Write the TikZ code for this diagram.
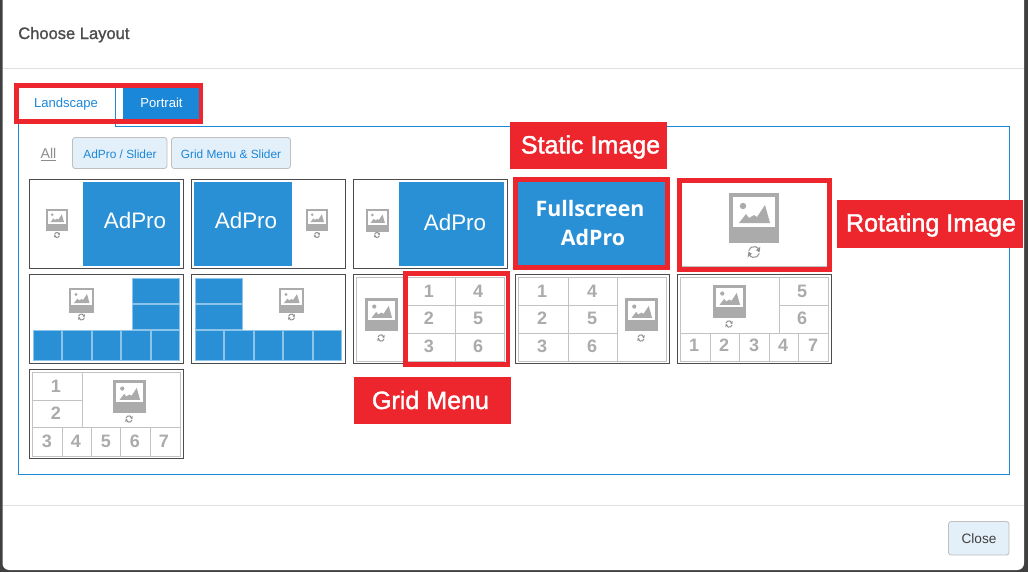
\documentclass[tikz,border=0pt]{standalone}
\usepackage{fontspec}
\setmainfont{Liberation Sans}
\newfontfamily\boldsans{Open Sans}
\newfontfamily\flagfont[FakeBold=1.5]{Liberation Sans}
\newfontfamily\titlefont[FakeBold=1.2]{Liberation Sans}
\definecolor{tabblue}{HTML}{1B87D8}
\definecolor{tileblue}{HTML}{2A90D6}
\definecolor{tilegap}{HTML}{8CC4EA}
\definecolor{markred}{HTML}{EC262C}
\definecolor{btnfill}{HTML}{E3EFF9}
\definecolor{iconGray}{HTML}{ABABAB}
\tikzset{
  frame/.style={draw=black!70,line width=0.75pt},
  cell/.style={draw=black!24,line width=0.6pt},
  redbox/.style={draw=markred,line width=3.6pt},
  tile/.style={fill=tileblue,draw=tilegap,line width=0.5pt},
  num/.style={text=iconGray,font=\fontsize{13.5}{14}\selectfont\bfseries,inner sep=0pt,yshift=-0.5pt},
  adpro/.style={text=white,font=\fontsize{16.8}{17}\selectfont,inner sep=0pt,anchor=base},
  fulltext/.style={text=white,font=\fontsize{16}{17}\selectfont\boldsans\bfseries,inner sep=0pt,anchor=base},
  flag/.style={text=white,font=\fontsize{18.8}{20}\selectfont\flagfont,inner sep=0pt,anchor=base},
  btn/.style={fill=btnfill,draw=black!25,line width=0.6pt,rounded corners=2pt},
  btntext/.style={text=tabblue,font=\fontsize{8.9}{10}\selectfont,inner sep=0pt,anchor=base},
  tabtext/.style={font=\fontsize{9.8}{11}\selectfont,inner sep=0pt,anchor=base}
}
\newcommand{\refreshicon}[3]{%
  \draw[iconGray!85!black,line width=0.75pt] (#1,#2) ++(15:#3) arc (15:165:#3);
  \draw[iconGray!85!black,line width=0.75pt] (#1,#2) ++(195:#3) arc (195:345:#3);
  \fill[iconGray!85!black,shift={(#1,#2)}] (140:0.5*#3) -- (140:1.5*#3) -- (185:#3) -- cycle;
  \fill[iconGray!85!black,shift={(#1,#2)}] (320:0.5*#3) -- (320:1.5*#3) -- (5:#3) -- cycle;
}
\newcommand{\imgicon}[3]{%
  \begin{scope}[shift={(#1,#2)},scale=#3/50]
    \fill[iconGray] (0,0) rectangle (50,50);
    \fill[white] (4,4) rectangle (46,34);
    \fill[iconGray] (14,13) circle (3.2);
    \fill[iconGray] (10,30) -- (17,21) -- (20,25) -- (25,22) -- (28,24) -- (36,12) -- (41,30) -- cycle;
  \end{scope}
}
\begin{document}
\begin{tikzpicture}[x=0.75pt,y=-0.75pt]
    \useasboundingbox (0,0) rectangle (1028,572);
    % Modal window on the dark page
    \fill[black!75] (0,0) rectangle (1028,572);
    \fill[white,rounded corners=5pt] (2.5,-10) rectangle (1024,570);
    \draw[black!12,line width=0.75pt] (2.5,68.5) -- (1024,68.5);
    \draw[black!12,line width=0.75pt] (2.5,505.5) -- (1024,505.5);
    \node[text=black!70,font=\fontsize{12.4}{13}\selectfont\titlefont,inner sep=0pt,anchor=base west] (title) at (18,39) {Choose Layout};

    % Tab panel
    \draw[tabblue,line width=0.75pt] (18.5,120) -- (18.5,474.5) -- (1009.5,474.5) -- (1009.5,126.5) -- (115.5,126.5) -- (115.5,87);
    \fill[tabblue] (123,87) rectangle (199,119);
    \node[tabtext,text=tabblue] (landscape) at (66,107) {Landscape};
    \node[tabtext,text=white] (portrait) at (161.5,107) {Portrait};

    % Filter buttons
    \node[text=black!45,font=\fontsize{10.6}{11}\selectfont,inner sep=0pt,anchor=base] (all) at (48.5,158) {\underline{All}};
    \draw[btn] (72.5,137.5) rectangle (167,168.5);
    \draw[btn] (171.5,137.5) rectangle (290.5,168.5);
    \node[btntext] (adslider) at (120,158) {AdPro / Slider};
    \node[btntext] (gridslider) at (231,158) {Grid Menu \& Slider};

    % Thumbnail frames
    \foreach \x in {29.5,191.5,353.5} {
      \draw[frame] (\x,179.5) rectangle ++(154,89);
    }
    \foreach \x in {29.5,191.5,353.5,515.5,677.5} {
      \draw[frame] (\x,274.5) rectangle ++(154,89);
    }
    \draw[frame] (29.5,369.5) rectangle ++(154,89);

    % First row: AdPro tiles
    \fill[tileblue] (83,182) rectangle (180,266);
    \fill[tileblue] (194,182) rectangle (292,266);
    \fill[tileblue] (399,182) rectangle (504,266);
    \node[adpro] (ad1) at (135,228) {AdPro};
    \node[adpro] (ad2) at (246,228) {AdPro};
    \node[adpro] (ad3) at (455,230) {AdPro};
    \imgicon{46}{209}{22}
    \imgicon{306}{209}{22}
    \imgicon{366}{209}{23}
    \refreshicon{57}{235}{2.5}
    \refreshicon{317}{235}{2.5}
    \refreshicon{377}{235}{2.5}

    % Fullscreen tile
    \fill[tileblue] (517,182) rectangle (665,265);
    \node[fulltext] (full1) at (590,216) {Fullscreen};
    \node[fulltext] (full2) at (593,245) {AdPro};

    % Rotating image tile
    \draw[cell] (681,266) -- (827,266);
    \imgicon{729}{193}{50}
    \refreshicon{754}{252}{5.5}

    % Second row: blue tiles
    \draw[tile] (132,278) rectangle (179,303.5);
    \draw[tile] (132,304) rectangle (179,329.5);
    \foreach \x in {33,62.5,92,121.5,151} {
      \draw[tile] (\x,330) rectangle ++(28.5,30.5);
    }
    \draw[tile] (195,278) rectangle (242,303.5);
    \draw[tile] (195,304) rectangle (242,329.5);
    \foreach \x in {195,224.5,254,283.5,313} {
      \draw[tile] (\x,330) rectangle ++(28.5,30.5);
    }
    \imgicon{69}{288}{25}
    \imgicon{279}{288}{25}
    \refreshicon{81.5}{317}{3}
    \refreshicon{291.5}{317}{3}

    % Grid with image on the left
    \draw[cell] (356.5,277.5) rectangle (504,361);
    \draw[cell] (455,277.5) -- (455,361);
    \draw[cell] (405,277.5) -- (405,361);
    \draw[cell] (405,305) -- (504,305);
    \draw[cell] (405,333) -- (504,333);
    \foreach \n/\x/\y in {1/429/291,2/429/318,3/429/346,4/478/291,5/478/318,6/478/346} {
      \node[num] (ga\n) at (\x,\y) {\n};
    }
    \imgicon{365}{298}{33}
    \refreshicon{381}{338}{3.2}

    % Grid with image on the right
    \draw[cell] (518.5,277.5) rectangle (666,361);
    \draw[cell] (568,277.5) -- (568,361);
    \draw[cell] (617,277.5) -- (617,361);
    \draw[cell] (518.5,305) -- (617,305);
    \draw[cell] (518.5,333) -- (617,333);
    \foreach \n/\x/\y in {1/542/291,2/542/318,3/542/346,4/592/291,5/592/318,6/592/346} {
      \node[num] (gb\n) at (\x,\y) {\n};
    }
    \imgicon{625}{298}{33}
    \refreshicon{641}{338}{3.2}

    % Image on top of five cells
    \draw[cell] (680.5,277.5) rectangle (828,361);
    \draw[cell] (779,277.5) -- (779,333);
    \draw[cell] (779,305) -- (828,305);
    \draw[cell] (680.5,333) -- (828,333);
    \foreach \x in {710,739.5,769,798} {
      \draw[cell] (\x,333) -- (\x,361);
    }
    \foreach \n/\x/\y in {1/694/345,2/724/345,3/754/345,4/783/345,7/813/345,5/802/291,6/802/318} {
      \node[num] (gc\n) at (\x,\y) {\n};
    }
    \imgicon{713}{285}{33}
    \refreshicon{729}{324}{3.2}

    % Third row
    \draw[cell] (32.5,372.5) rectangle (180,456);
    \draw[cell] (82,372.5) -- (82,427.5);
    \draw[cell] (32.5,400) -- (82,400);
    \draw[cell] (32.5,427.5) -- (180,427.5);
    \foreach \x in {62,91.5,120.5,150} {
      \draw[cell] (\x,427.5) -- (\x,456);
    }
    \foreach \n/\x/\y in {1/56/386,2/56/413,3/47/441,4/76/441,5/106/441,6/135/441,7/164/441} {
      \node[num] (gd\n) at (\x,\y) {\n};
    }
    \imgicon{113}{380}{33}
    \refreshicon{129}{419}{3.2}

    % Close button
    \draw[btn] (948.5,521.5) rectangle (1009,555);
    \node[text=black!75,font=\fontsize{10.2}{11}\selectfont,inner sep=0pt,anchor=base] (close) at (979,543) {Close};

    % Red highlights
    \draw[redbox] (16.5,85.5) rectangle (201,121.5);
    \draw[redbox] (515.5,179.5) rectangle (667.5,267.5);
    \draw[redbox] (679.5,180.5) rectangle (829.5,269.5);
    \draw[redbox] (405.5,273.5) rectangle (508,364.5);

    % Red labels
    \fill[markred] (510,122) rectangle (667,169);
    \fill[markred] (354,377) rectangle (511,424);
    \fill[markred] (837,200) rectangle (1023,248);
    \node[flag] (staticlabel) at (590.5,153.5) {Static Image};
    \node[flag] (gridlabel) at (430.5,409) {Grid Menu};
    \node[flag] (rotlabel) at (931,231.5) {Rotating Image};
\end{tikzpicture}
\end{document}
